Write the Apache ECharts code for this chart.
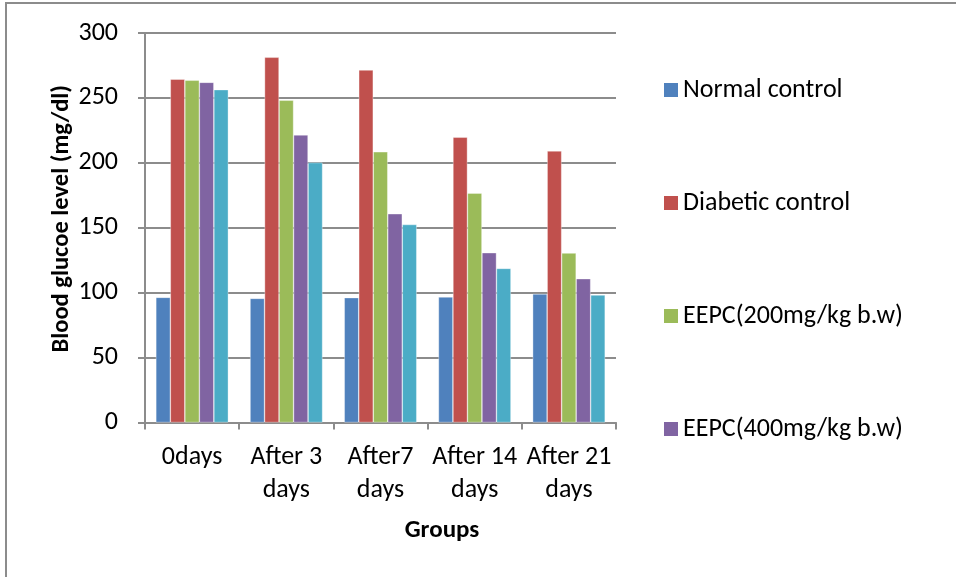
<!DOCTYPE html>
<html>
<head>
<meta charset="utf-8">
<script src="https://cdn.jsdelivr.net/npm/echarts@6/dist/echarts.min.js"></script>
<style>
  html, body { margin: 0; padding: 0; background: #fff; }
  #chart { width: 956px; height: 577px; }
</style>
</head>
<body>
<div id="chart"></div>
<script>
// Blood glucose over the treatment period, per group
const categories = ['0days', 'After 3\ndays', 'After7\ndays', 'After 14\ndays', 'After 21\ndays'];
const normalControl = [96.4, 95.6, 96.2, 96.7, 99.0];
const diabeticControl = [264.4, 281.3, 271.5, 219.7, 209.2];
const eepc200 = [263.6, 248.2, 208.5, 176.7, 130.5];
const eepc400 = [262.0, 221.5, 160.8, 130.8, 110.8];
const standardDrug = [256.4, 200.2, 152.5, 118.7, 98.2];
const yTicks = [0, 50, 100, 150, 200, 250, 300];

const seriesNames = ['Normal control', 'Diabetic control', 'EEPC(200mg/kg b.w)', 'EEPC(400mg/kg b.w)', 'Standard drug'];
const seriesValues = [normalControl, diabeticControl, eepc200, eepc400, standardDrug];
const colors = ['#4F81BD', '#C0504D', '#9BBB59', '#8064A2', '#4BACC6'];

const font = 'Carlito, Calibri, Lato, sans-serif';
const chart = echarts.init(document.getElementById('chart'), null, { renderer: 'canvas' });

chart.setOption({
  animation: false,
  color: colors,
  textStyle: { fontFamily: font },
  grid: { left: 145, right: 340, top: 33, bottom: 154.5, containLabel: false },
  graphic: [
    {
      type: 'rect',
      shape: { x: 6, y: 3, width: 1000, height: 640 },
      style: { fill: 'none', stroke: '#8c8c8c', lineWidth: 2 },
      silent: true
    },
    {
      type: 'text',
      x: 442, y: 531,
      style: {
        text: 'Groups', fontFamily: font, fontSize: 25, fontWeight: 'bold', fill: '#000',
        textAlign: 'center', textVerticalAlign: 'middle'
      }
    }
  ],
  legend: {
    data: seriesNames.slice(0, 4),
    orient: 'vertical',
    left: 659, top: 72,
    itemWidth: 14, itemHeight: 14, itemGap: 87,
    icon: 'rect',
    textStyle: { fontFamily: font, fontSize: 26, color: '#000', lineHeight: 26, padding: [0, 0, 0, 0] },
    itemStyle: { borderWidth: 0 }
  },
  xAxis: {
    type: 'category',
    data: categories,
    axisLine: { lineStyle: { color: '#8c8c8c', width: 2 } },
    axisTick: { show: true, alignWithLabel: false, length: 7, lineStyle: { color: '#8c8c8c', width: 2 } },
    axisLabel: { color: '#000', fontSize: 26, fontFamily: font, lineHeight: 33, margin: 18, interval: 0 }
  },
  yAxis: {
    type: 'value',
    min: 0, max: 300, interval: 50,
    name: 'Blood glucoe level (mg/dl)',
    nameLocation: 'middle',
    nameGap: 70,
    nameTextStyle: { fontFamily: font, fontSize: 24.5, fontWeight: 'bold', color: '#000', padding: [0, 0, 0, 18] },
    axisLine: { show: true, lineStyle: { color: '#8c8c8c', width: 2 } },
    axisTick: { show: true, length: 7, lineStyle: { color: '#8c8c8c', width: 2 } },
    axisLabel: {
      color: '#000', fontSize: 26, fontFamily: font, margin: 27,
      formatter: v => (yTicks.indexOf(v) >= 0 ? String(v) : '')
    },
    splitLine: { show: true, lineStyle: { color: '#8c8c8c', width: 2 } }
  },
  series: seriesNames.map((name, i) => ({
    name,
    type: 'bar',
    data: seriesValues[i],
    barGap: '0%',
    barCategoryGap: '23%',
    itemStyle: { color: colors[i], borderColor: 'rgba(255,255,255,0.6)', borderWidth: 0.6 }
  }))
});
</script>
</body>
</html>
